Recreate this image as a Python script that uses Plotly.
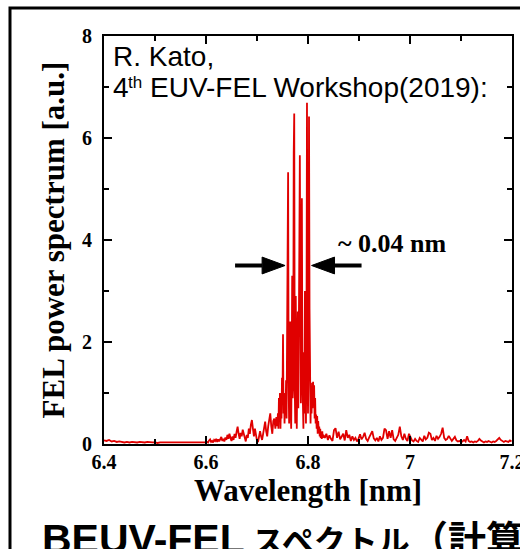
import numpy as np
import plotly.graph_objects as go

# ---- data: FEL power spectrum, sampled in segments (start wavelength, step, values) ----
seg_a_start, seg_a_step = 6.400, 0.005
seg_a_power = [0.07, 0.06, 0.08, 0.05, 0.06, 0.04, 0.05, 0.04, 0.03, 0.04,
               0.03, 0.04, 0.03, 0.03, 0.04, 0.03, 0.03, 0.04, 0.03, 0.03,
               0.03, 0.02, 0.03, 0.03, 0.02, 0.03, 0.03, 0.02, 0.03, 0.02,
               0.03, 0.02, 0.03, 0.03, 0.02, 0.03, 0.02, 0.03, 0.03, 0.02]

seg_b_start, seg_b_step = 6.600, 0.002
seg_b_power = [0.03, 0.04, 0.03, 0.07, 0.09, 0.04, 0.06, 0.03, 0.08, 0.06,
               0.10, 0.04, 0.09, 0.05, 0.12, 0.14, 0.06, 0.10, 0.05, 0.13,
               0.08, 0.18, 0.10, 0.20, 0.12, 0.06, 0.15, 0.08, 0.20, 0.12,
               0.24, 0.34, 0.20, 0.10, 0.22, 0.15, 0.28, 0.20, 0.08, 0.05,
               0.18, 0.12, 0.30, 0.20, 0.38, 0.47, 0.30, 0.15, 0.30, 0.20,
               0.06, 0.04, 0.12, 0.25, 0.15, 0.08, 0.20, 0.32, 0.44, 0.25,
               0.15, 0.35, 0.50, 0.60, 0.35, 0.20, 0.45, 0.50, 0.30, 0.53]

seg_c_start, seg_c_step = 6.740, 0.001
seg_c_power = [0.35, 0.60, 0.30, 0.90, 0.45, 1.00, 0.30, 0.75, 0.50, 1.30,
               0.90, 2.15, 0.60, 1.00, 0.40, 0.90, 0.60, 1.25, 0.50, 1.60,
               3.10, 5.33, 1.20, 0.40, 1.40, 2.40, 0.80, 0.30, 1.50, 3.30,
               0.90, 1.20, 5.70, 6.48, 1.10, 0.40, 2.90, 0.80, 0.30, 1.40,
               2.60, 0.70, 1.60, 3.80, 5.66, 1.50, 0.80, 2.20, 4.82, 1.30,
               0.50, 0.30, 1.80, 0.60, 3.00, 1.00, 0.40, 2.00, 6.69, 1.80,
               0.60, 1.50, 6.42, 2.65, 1.00, 0.40, 1.10, 0.60, 1.20, 0.70,
               1.22, 0.80, 1.15, 0.50, 0.90, 0.40, 0.58, 0.30, 0.55, 0.20,
               0.45, 0.25, 0.34, 0.15, 0.30, 0.12, 0.20, 0.10, 0.25, 0.12,
               0.18]

seg_d_start, seg_d_step = 6.833, 0.003
seg_d_power = [0.12, 0.20, 0.08, 0.17, 0.10, 0.06, 0.27, 0.31, 0.12, 0.24,
               0.09, 0.14, 0.20, 0.07, 0.27, 0.12, 0.18, 0.06, 0.15, 0.08,
               0.12, 0.05, 0.10, 0.19, 0.09, 0.14, 0.22, 0.10, 0.06, 0.13,
               0.21, 0.25, 0.11, 0.07, 0.12, 0.05, 0.15, 0.08, 0.12, 0.30,
               0.27, 0.10, 0.25, 0.12, 0.27, 0.09, 0.06, 0.12, 0.18, 0.34,
               0.15, 0.08, 0.20, 0.10, 0.06, 0.20, 0.12, 0.07, 0.05, 0.10,
               0.06, 0.04, 0.12, 0.08, 0.05, 0.16, 0.09, 0.12, 0.22, 0.20,
               0.08, 0.12, 0.06, 0.16, 0.10, 0.14, 0.20, 0.32, 0.12, 0.08,
               0.10, 0.16, 0.12, 0.06, 0.10, 0.14, 0.07, 0.05, 0.06, 0.04,
               0.05, 0.08, 0.05, 0.15, 0.06, 0.04, 0.05, 0.03, 0.05, 0.04,
               0.06, 0.10, 0.07, 0.04, 0.03, 0.05, 0.04, 0.06, 0.04, 0.03,
               0.05, 0.04, 0.06, 0.09, 0.12, 0.08, 0.05, 0.04, 0.06, 0.05,
               0.04, 0.07, 0.05]

x_tickvals = [6.4, 6.6, 6.8, 7.0, 7.2]
x_ticktext = ["6.4", "6.6", "6.8", "7", "7.2"]
y_tickvals = [0, 2, 4, 6, 8]

# width-marker arrows (annotation geometry)
arrow_y = 3.5
left_arrow_tail, left_arrow_tip = 6.657, 6.755
right_arrow_tail, right_arrow_tip = 6.905, 6.807
head_len, head_half = 0.045, 0.165

segments = [(seg_a_start, seg_a_step, seg_a_power),
            (seg_b_start, seg_b_step, seg_b_power),
            (seg_c_start, seg_c_step, seg_c_power),
            (seg_d_start, seg_d_step, seg_d_power)]
wl = np.concatenate([s + st * np.arange(len(p)) for s, st, p in segments])
pw = np.concatenate([np.array(p, dtype=float) for _, _, p in segments])

RED = "#e00000"
SERIF = "Liberation Serif"
SANS = "Liberation Sans"
CJK = "Noto Sans CJK JP"

fig = go.Figure()
fig.add_trace(go.Scatter(x=wl, y=pw, mode="lines",
                         line=dict(color=RED, width=1.8), showlegend=False,
                         hoverinfo="skip"))

axis_common = dict(showline=True, linewidth=2, linecolor="black", mirror="ticks",
                   ticks="inside", ticklen=8, tickwidth=2, tickcolor="black",
                   showgrid=False, zeroline=False, ticklabeloverflow="allow",
                   tickfont=dict(family=SERIF, size=20, color="black", weight="bold"))

fig.update_xaxes(range=[6.4, 7.2], tickvals=x_tickvals, ticktext=x_ticktext,
                 minor=dict(tick0=6.4, dtick=0.1, ticks="inside", ticklen=5,
                            tickwidth=2, tickcolor="black"),
                 title=dict(text="Wavelength [nm]", standoff=5,
                            font=dict(family=SERIF, size=31, color="black", weight="bold")),
                 ticklabelstandoff=-1,
                 **axis_common)
fig.update_yaxes(range=[0, 8], tickvals=y_tickvals,
                 minor=dict(tick0=0, dtick=1, ticks="inside", ticklen=5,
                            tickwidth=2, tickcolor="black"),
                 title=dict(text="FEL power spectrum [a.u.]", standoff=8,
                            font=dict(family=SERIF, size=31, color="black", weight="bold")),
                 ticklabelstandoff=6,
                 **axis_common)

shapes = []
# left arrow: shaft + head pointing right
shapes.append(dict(type="line", xref="x", yref="y", x0=left_arrow_tail, x1=left_arrow_tip - head_len,
                   y0=arrow_y, y1=arrow_y, line=dict(color="black", width=4)))
shapes.append(dict(type="path", xref="x", yref="y",
                   path=f"M {left_arrow_tip - head_len},{arrow_y - head_half} L {left_arrow_tip},{arrow_y} "
                        f"L {left_arrow_tip - head_len},{arrow_y + head_half} Z",
                   fillcolor="black", line=dict(color="black", width=1)))
# right arrow: shaft + head pointing left
shapes.append(dict(type="line", xref="x", yref="y", x0=right_arrow_tail, x1=right_arrow_tip + head_len,
                   y0=arrow_y, y1=arrow_y, line=dict(color="black", width=4)))
shapes.append(dict(type="path", xref="x", yref="y",
                   path=f"M {right_arrow_tip + head_len},{arrow_y - head_half} L {right_arrow_tip},{arrow_y} "
                        f"L {right_arrow_tip + head_len},{arrow_y + head_half} Z",
                   fillcolor="black", line=dict(color="black", width=1)))
# outer frame of the slide panel
shapes.append(dict(type="rect", xref="paper", yref="paper",
                   x0=-0.2304, x1=1.08, y0=-0.30, y1=1.0686,
                   line=dict(color="black", width=3), fillcolor="rgba(0,0,0,0)"))

def px_x(px):
    return (px - 104) / 408.0

def px_y(py):
    return (444 - py) / 408.0

def note(text, x, y, family, size, xanchor="left", yanchor="middle", weight="normal",
         xref="paper", yref="paper"):
    return dict(text=text, xref=xref, yref=yref, x=x, y=y, xanchor=xanchor,
                yanchor=yanchor, showarrow=False,
                font=dict(family=family, size=size, color="black", weight=weight))

annotations = [
    note("R. Kato,", px_x(111), px_y(56), SANS, 28),
    note("4", px_x(111), px_y(87), SANS, 28),
    note("th", px_x(126), px_y(82), SANS, 17),
    note("EUV-FEL Workshop(2019):", px_x(148), px_y(87), SANS, 28),
    note("~ 0.04 nm", 6.855, 3.94, SERIF, 26, weight="bold", xref="x", yref="y"),
    note("BEUV-FEL", px_x(40), px_y(514), SANS, 41, yanchor="top", weight="bold"),
    note("スペクトル", px_x(250), px_y(514), CJK, 32, yanchor="top", weight="bold"),
    note("（計算）", px_x(408), px_y(507), CJK, 38, yanchor="top", weight="bold"),
]

fig.update_layout(width=520, height=549,
                  margin=dict(l=104, r=8, t=36, b=105, autoexpand=False),
                  paper_bgcolor="white", plot_bgcolor="white",
                  shapes=shapes, annotations=annotations, showlegend=False)

fig.write_html("out.html")
